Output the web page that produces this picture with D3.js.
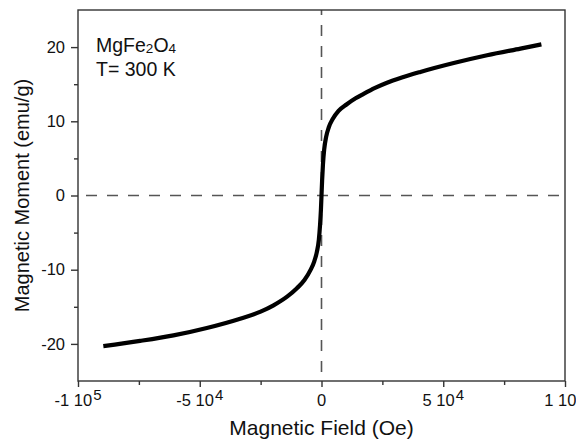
<!DOCTYPE html>
<html>
<head>
<meta charset="utf-8">
<script src="https://cdn.jsdelivr.net/npm/d3@7"></script>
<style>
  body { margin: 0; background: #fff; }
  text { font-family: "Liberation Sans", Arial, sans-serif; fill: #111; }
</style>
</head>
<body>
<svg id="chart"></svg>
<script>
// Chart size
const width = 576;
const height = 439;
const margin = { top: 10, right: 11, bottom: 58, left: 78 };

// Hysteresis curve (field in Oe, moment in emu/g)
const fieldOe = [-89600, -74500, -60800, -47100, -33400, -25000, -19700, -14000, -10100, -7000, -4600, -3000, -1900, -1100, -600, -250, 0,
                 250, 600, 1100, 1900, 3000, 4600, 7000, 10400, 14000, 17300, 22000, 26900, 33000, 40600, 54300, 68000, 81700, 90300];
const moment = [-20.3, -19.6, -18.85, -17.85, -16.6, -15.65, -14.8, -13.6, -12.5, -11.4, -10.1, -8.9, -7.6, -6.0, -4.0, -2.0, 0,
                2.0, 4.2, 6.2, 7.9, 9.2, 10.3, 11.4, 12.3, 13.1, 13.7, 14.5, 15.2, 15.9, 16.65, 17.85, 18.9, 19.8, 20.36];

// Tick values
const xMajorTicks = [-100000, -50000, 0, 50000, 100000];
const xTickBase = ["-1 10", "-5 10", "0", "5 10", "1 10"];
const xTickExp = ["5", "4", "", "4", "5"];
const xMinorTicks = [-75000, -25000, 25000, 75000];
const yMajorTicks = [-20, -10, 0, 10, 20];
const yMinorTicks = [-15, -5, 5, 15];

const svg = d3.select("#chart")
    .attr("width", width)
    .attr("height", height);

const x = d3.scaleLinear()
    .domain([-100000, 100000])
    .range([margin.left, width - margin.right]);

const y = d3.scaleLinear()
    .domain([-25, 25])
    .range([height - margin.bottom, margin.top]);

const axisColor = "#333";

// Dashed zero lines
svg.append("line")
    .attr("x1", x(-100000)).attr("x2", x(100000))
    .attr("y1", y(0)).attr("y2", y(0))
    .attr("stroke", "#555").attr("stroke-width", 1.6)
    .attr("stroke-dasharray", "11,10")
    .attr("stroke-dashoffset", -8);
svg.append("line")
    .attr("x1", x(0)).attr("x2", x(0))
    .attr("y1", y(25)).attr("y2", y(-25))
    .attr("stroke", "#555").attr("stroke-width", 1.6)
    .attr("stroke-dasharray", "11,10")
    .attr("stroke-dashoffset", 6);

// Frame
svg.append("rect")
    .attr("x", x(-100000)).attr("y", y(25))
    .attr("width", x(100000) - x(-100000))
    .attr("height", y(-25) - y(25))
    .attr("fill", "none")
    .attr("stroke", axisColor)
    .attr("stroke-width", 1.4);

// Y axis (plain hyphen for negatives, as in the original)
const yAxis = svg.append("g")
    .attr("transform", `translate(${x(-100000)},0)`)
    .call(d3.axisLeft(y).tickValues(yMajorTicks).tickSize(7).tickPadding(6).tickFormat(d => String(d)));
svg.append("g")
    .attr("transform", `translate(${x(-100000)},0)`)
    .call(d3.axisLeft(y).tickValues(yMinorTicks).tickSize(4).tickFormat(""));

// X axis
svg.append("g")
    .attr("transform", `translate(0,${y(-25)})`)
    .call(d3.axisBottom(x).tickValues(xMajorTicks).tickSize(6).tickFormat(""));
svg.append("g")
    .attr("transform", `translate(0,${y(-25)})`)
    .call(d3.axisBottom(x).tickValues(xMinorTicks).tickSize(4).tickFormat(""));

svg.selectAll(".domain").remove();
svg.selectAll(".tick line").attr("stroke", axisColor).attr("stroke-width", 1.4);
yAxis.selectAll(".tick text")
    .attr("font-size", 16.5)
    .attr("font-family", "Liberation Sans, Arial, sans-serif")
    .attr("fill", "#111");

// X tick labels with powers of ten
xMajorTicks.forEach((v, i) => {
    const t = svg.append("text")
        .attr("x", x(v))
        .attr("y", y(-25) + 25)
        .attr("text-anchor", "middle")
        .attr("font-size", 16.5);
    t.append("tspan").text(xTickBase[i]);
    if (xTickExp[i]) {
        t.append("tspan")
            .attr("dy", -6)
            .attr("dx", 1)
            .attr("font-size", 15)
            .text(xTickExp[i]);
    }
});

// Curve
svg.append("path")
    .datum(fieldOe.map((f, i) => [f, moment[i]]))
    .attr("fill", "none")
    .attr("stroke", "#000")
    .attr("stroke-width", 4.2)
    .attr("d", d3.line()
        .x(d => x(d[0]))
        .y(d => y(d[1]))
        .curve(d3.curveMonotoneX));

// Sample label
const label = svg.append("text")
    .attr("x", 96)
    .attr("y", 52)
    .attr("font-size", 19.5);
label.append("tspan").text("MgFe");
label.append("tspan").attr("font-size", 13.5).attr("dy", 1).text("2");
label.append("tspan").attr("dy", -1).text("O");
label.append("tspan").attr("font-size", 13.5).attr("dy", 1).text("4");
svg.append("text")
    .attr("x", 96)
    .attr("y", 76)
    .attr("font-size", 19.5)
    .text("T= 300 K");

// Axis titles
svg.append("text")
    .attr("x", x(0))
    .attr("y", 435)
    .attr("text-anchor", "middle")
    .attr("font-size", 21)
    .text("Magnetic Field (Oe)");
svg.append("text")
    .attr("transform", `translate(29,${y(0)}) rotate(-90)`)
    .attr("text-anchor", "middle")
    .attr("font-size", 20)
    .text("Magnetic Moment (emu/g)");
</script>
</body>
</html>
